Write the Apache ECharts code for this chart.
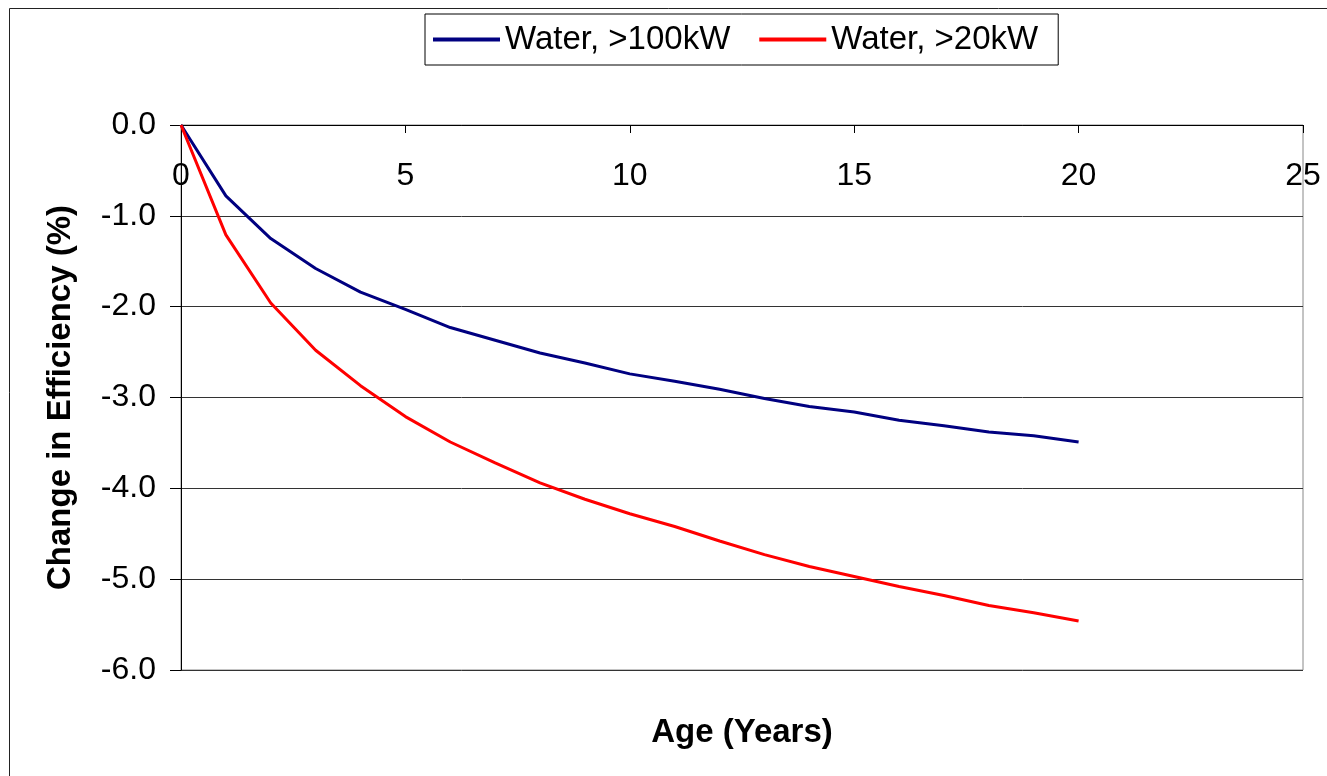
<!DOCTYPE html>
<html>
<head>
<meta charset="utf-8">
<script src="https://cdn.jsdelivr.net/npm/echarts@6/dist/echarts.min.js"></script>
<style>
  html, body { margin: 0; padding: 0; background: #fff; }
  #chart { width: 1327px; height: 776px; }
</style>
</head>
<body>
<div id="chart"></div>
<script>
// age in years
const ages = [0, 1, 2, 3, 4, 5, 6, 7, 8, 9, 10, 11, 12, 13, 14, 15, 16, 17, 18, 19, 20]
// change in efficiency (%)
const water100 = [0, -0.78, -1.25, -1.58, -1.84, -2.03, -2.23, -2.37, -2.51, -2.62, -2.74, -2.82, -2.91, -3.01, -3.10, -3.16, -3.25, -3.31, -3.38, -3.42, -3.49]
const water20 = [0, -1.21, -1.96, -2.48, -2.87, -3.21, -3.49, -3.72, -3.94, -4.12, -4.28, -4.42, -4.58, -4.73, -4.86, -4.97, -5.08, -5.18, -5.29, -5.37, -5.46]
const seriesNames = ['Water, >100kW', 'Water, >20kW']

const font = 'Liberation Sans, Arial, sans-serif'
const pair = (vals) => ages.map((a, i) => [a, vals[i]])

const chart = echarts.init(document.getElementById('chart'))
chart.setOption({
  backgroundColor: '#fff',
  animation: false,
  textStyle: { fontFamily: font },
  grid: {
    left: 181, right: 24, top: 125, bottom: 106,
    show: true, borderColor: '#888', borderWidth: 1
  },
  legend: {
    data: seriesNames,
    icon: 'rect',
    left: 425, top: 14,
    padding: [9, 20, 9, 8],
    itemGap: 29,
    itemWidth: 67, itemHeight: 4,
    borderColor: '#000', borderWidth: 1,
    textStyle: { fontSize: 33, color: '#000', fontFamily: font }
  },
  xAxis: {
    type: 'value',
    position: 'top',
    min: 0, max: 25, interval: 5,
    axisLine: { onZero: false, lineStyle: { color: '#000', width: 1 } },
    axisTick: { inside: true, length: 8, lineStyle: { color: '#000' } },
    axisLabel: { inside: true, margin: 35, fontSize: 32, color: '#000', fontFamily: font },
    splitLine: { show: false }
  },
  yAxis: {
    type: 'value',
    min: -6, max: 0, interval: 1,
    name: 'Change in Efficiency (%)',
    nameLocation: 'middle',
    nameGap: 104,
    nameRotate: 90,
    nameTextStyle: { fontSize: 33, fontWeight: 'bold', color: '#000', fontFamily: font },
    axisLine: { show: true, lineStyle: { color: '#000', width: 1 } },
    axisTick: { show: true, length: 11, lineStyle: { color: '#000' } },
    axisLabel: { margin: 25, fontSize: 32, color: '#000', fontFamily: font, formatter: v => v.toFixed(1) },
    splitLine: { lineStyle: { color: '#333', width: 1 } }
  },
  graphic: [
    {
      type: 'rect', silent: true, z: -1,
      shape: { x: 9.5, y: 8.5, width: 1340, height: 800 },
      style: { fill: 'none', stroke: '#222', lineWidth: 1 }
    },
    {
      type: 'text', x: 742, y: 733,
      style: {
        text: 'Age (Years)', font: 'bold 33px ' + font, fill: '#000',
        align: 'center', verticalAlign: 'middle'
      }
    }
  ],
  series: [
    {
      name: seriesNames[0], type: 'line', symbol: 'none',
      data: pair(water100),
      lineStyle: { color: '#000080', width: 3 },
      itemStyle: { color: '#000080' }
    },
    {
      name: seriesNames[1], type: 'line', symbol: 'none',
      data: pair(water20),
      lineStyle: { color: '#ff0000', width: 3 },
      itemStyle: { color: '#ff0000' }
    }
  ]
})
</script>
</body>
</html>
